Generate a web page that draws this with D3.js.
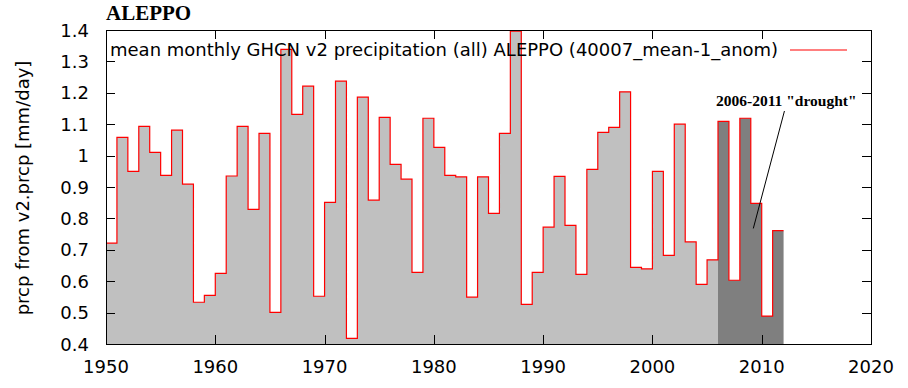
<!DOCTYPE html>
<html>
<head>
<meta charset="utf-8">
<script src="https://cdn.jsdelivr.net/npm/d3@7"></script>
<style>
  body { margin: 0; background: #fff; }
  svg { display: block; }
</style>
</head>
<body>
<div id="chart"></div>
<script>
// Data ------------------------------------------------------------------------
const years = [
  1950, 1951, 1952, 1953, 1954, 1955, 1956, 1957, 1958, 1959,
  1960, 1961, 1962, 1963, 1964, 1965, 1966, 1967, 1968, 1969,
  1970, 1971, 1972, 1973, 1974, 1975, 1976, 1977, 1978, 1979,
  1980, 1981, 1982, 1983, 1984, 1985, 1986, 1987, 1988, 1989,
  1990, 1991, 1992, 1993, 1994, 1995, 1996, 1997, 1998, 1999,
  2000, 2001, 2002, 2003, 2004, 2005, 2006, 2007, 2008, 2009,
  2010, 2011
];
const prcp = [
  0.721, 1.058, 0.950, 1.093, 1.010, 0.937, 1.081, 0.909, 0.533, 0.555,
  0.625, 0.935, 1.093, 0.829, 1.071, 0.501, 1.338, 1.131, 1.221, 0.552,
  0.851, 1.237, 0.418, 1.186, 0.858, 1.122, 0.972, 0.925, 0.628, 1.119,
  1.026, 0.937, 0.932, 0.549, 0.932, 0.816, 1.071, 1.396, 0.526, 0.628,
  0.772, 0.934, 0.778, 0.622, 0.956, 1.074, 1.090, 1.203, 0.644, 0.639,
  0.950, 0.682, 1.100, 0.725, 0.590, 0.668, 1.109, 0.603, 1.119, 0.848,
  0.489, 0.761
];
const droughtYears = [2006, 2011];
const xTicks = [1950, 1960, 1970, 1980, 1990, 2000, 2010, 2020];
const yTicks = [0.4, 0.5, 0.6, 0.7, 0.8, 0.9, 1, 1.1, 1.2, 1.3, 1.4];
const title = "ALEPPO";
const legendLabel = "mean monthly GHCN v2 precipitation (all) ALEPPO (40007_mean-1_anom)";
const yTitle = "prcp from v2.prcp [mm/day]";
const annotation = "2006-2011 \"drought\"";
// arrow of the annotation, in data units: [year, mm/day]
const annotationFrom = [2012.08, 1.142];
const annotationTo = [2009.23, 0.768];

// Layout ----------------------------------------------------------------------
const width = 908;
const height = 388;
const plot = { left: 106, right: 871, top: 30, bottom: 344 };
const tickLen = 9;
const axisFont = "'DejaVu Sans', sans-serif";
const axisSize = 18;
const serifFont = "'Liberation Serif', 'Times New Roman', serif";

const svg = d3.select("#chart")
  .append("svg")
  .attr("width", width)
  .attr("height", height);

const x = d3.scaleLinear().domain([1950, 2020]).range([plot.left, plot.right]);
const y = d3.scaleLinear().domain([0.4, 1.4]).range([plot.bottom, plot.top]);

// Filled steps ----------------------------------------------------------------
const bars = years.map((yr, i) => ({ year: yr, value: prcp[i] }));
const lastBar = { year: years[years.length - 1] + 1, value: prcp[prcp.length - 1] };
const stepPoints = bars.concat([lastBar]);

const inDrought = d => d.year >= droughtYears[0] && d.year <= droughtYears[1] + 1;
const beforeDrought = d => d.year <= droughtYears[0];

const area = d3.area()
  .x(d => x(d.year))
  .y0(y(0.4))
  .y1(d => y(d.value))
  .curve(d3.curveStepAfter);

svg.append("path")
  .datum(stepPoints.filter(beforeDrought))
  .attr("fill", "#c0c0c0")
  .attr("d", area);

svg.append("path")
  .datum(stepPoints.filter(inDrought))
  .attr("fill", "#7f7f7f")
  .attr("d", area);

// Red step outline ------------------------------------------------------------
svg.append("path")
  .datum(stepPoints)
  .attr("fill", "none")
  .attr("stroke", "#ff0000")
  .attr("stroke-width", 1.2)
  .attr("d", d3.line()
    .x(d => x(d.year))
    .y(d => y(d.value))
    .curve(d3.curveStepAfter));

// Frame and ticks -------------------------------------------------------------
const axes = svg.append("g")
  .attr("stroke", "#000")
  .attr("stroke-width", 1)
  .attr("shape-rendering", "crispEdges");

axes.selectAll("line.xb")
  .data(xTicks.slice(1, -1))
  .enter()
  .append("line")
  .attr("x1", d => Math.round(x(d)) + 0.5)
  .attr("x2", d => Math.round(x(d)) + 0.5)
  .attr("y1", plot.bottom)
  .attr("y2", plot.bottom - tickLen);

axes.selectAll("line.xt")
  .data(xTicks.slice(1, -1))
  .enter()
  .append("line")
  .attr("x1", d => Math.round(x(d)) + 0.5)
  .attr("x2", d => Math.round(x(d)) + 0.5)
  .attr("y1", plot.top)
  .attr("y2", plot.top + tickLen);

axes.selectAll("line.yl")
  .data(yTicks.slice(1, -1))
  .enter()
  .append("line")
  .attr("x1", plot.left)
  .attr("x2", plot.left + tickLen)
  .attr("y1", d => Math.round(y(d)) + 0.5)
  .attr("y2", d => Math.round(y(d)) + 0.5);

axes.selectAll("line.yr")
  .data(yTicks.slice(1, -1))
  .enter()
  .append("line")
  .attr("x1", plot.right)
  .attr("x2", plot.right - tickLen)
  .attr("y1", d => Math.round(y(d)) + 0.5)
  .attr("y2", d => Math.round(y(d)) + 0.5);

axes.append("rect")
  .attr("x", plot.left + 0.5)
  .attr("y", plot.top + 0.5)
  .attr("width", plot.right - plot.left)
  .attr("height", plot.bottom - plot.top)
  .attr("fill", "none");

// Tick labels -----------------------------------------------------------------
svg.append("g")
  .selectAll("text")
  .data(xTicks)
  .enter()
  .append("text")
  .attr("x", d => x(d))
  .attr("y", 373)
  .attr("text-anchor", "middle")
  .attr("font-family", axisFont)
  .attr("font-size", axisSize)
  .text(d => d);

svg.append("g")
  .selectAll("text")
  .data(yTicks)
  .enter()
  .append("text")
  .attr("x", 89)
  .attr("y", d => y(d) + 6.5)
  .attr("text-anchor", "end")
  .attr("font-family", axisFont)
  .attr("font-size", axisSize)
  .text(d => d3.format("~g")(d));

// Axis title ------------------------------------------------------------------
svg.append("text")
  .attr("transform", "translate(29, 188) rotate(-90)")
  .attr("text-anchor", "middle")
  .attr("font-family", axisFont)
  .attr("font-size", axisSize)
  .text(yTitle);

// Title -----------------------------------------------------------------------
svg.append("text")
  .attr("x", 106)
  .attr("y", 20)
  .attr("font-family", serifFont)
  .attr("font-weight", "bold")
  .attr("font-size", 21)
  .attr("fill", "#000")
  .text(title);

// Legend ----------------------------------------------------------------------
svg.append("text")
  .attr("x", 110)
  .attr("y", 56)
  .attr("font-family", axisFont)
  .attr("font-size", axisSize)
  .text(legendLabel);

svg.append("line")
  .attr("x1", 790)
  .attr("x2", 847)
  .attr("y1", 50)
  .attr("y2", 50)
  .attr("stroke", "#ff0000")
  .attr("stroke-width", 1.2);

// Annotation ------------------------------------------------------------------
svg.append("text")
  .attr("x", 716)
  .attr("y", 106)
  .attr("font-family", serifFont)
  .attr("font-weight", "bold")
  .attr("font-size", 15.5)
  .text(annotation);

svg.append("line")
  .attr("x1", x(annotationFrom[0]))
  .attr("y1", y(annotationFrom[1]))
  .attr("x2", x(annotationTo[0]))
  .attr("y2", y(annotationTo[1]))
  .attr("stroke", "#000")
  .attr("stroke-width", 1);
</script>
</body>
</html>
